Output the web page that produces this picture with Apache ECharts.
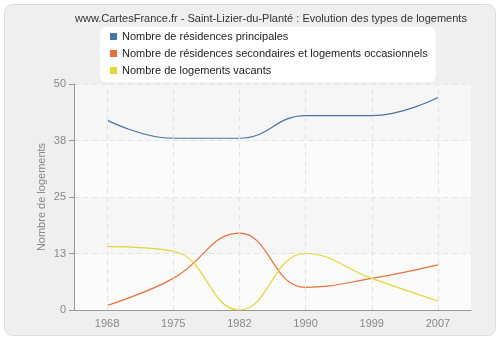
<!DOCTYPE html>
<html><head><meta charset="utf-8">
<script src="https://cdn.jsdelivr.net/npm/echarts@6/dist/echarts.min.js"></script>
<style>html,body{margin:0;padding:0;background:#fff}#c{width:500px;height:340px}</style>
</head><body><div id="c"></div>
<script>
const years = ['1968','1975','1982','1990','1999','2007'];
const principales = [42, 38, 38, 43, 43, 47];
const secondaires = [1, 7, 17, 5, 7, 10];
const vacants = [14, 13, 0, 12.5, 7, 2];
const seriesNames = ['Nombre de résidences principales','Nombre de résidences secondaires et logements occasionnels','Nombre de logements vacants'];
const colors = ['#4a74a5','#e8703b','#e3d638'];

const chart = echarts.init(document.getElementById('c'));
const font = 'Liberation Sans';
chart.setOption({
  animation:false,
  backgroundColor:'#ffffff',
  graphic:[
    {type:'rect',shape:{x:4.5,y:4.5,width:491,height:331,r:8},style:{fill:'#efefef',stroke:'#dddddd',lineWidth:1},z:-10}
  ],
  title:{text:'www.CartesFrance.fr - Saint-Lizier-du-Planté : Evolution des types de logements',left:70,top:8,
    textStyle:{fontFamily:font,fontSize:11,fontWeight:'normal',color:'#333'}},
  legend:{orient:'vertical',left:100,top:27,itemWidth:7,itemHeight:7,itemGap:6,icon:'rect',
    backgroundColor:'#ffffff',borderRadius:6,padding:[4,8,6,10],
    textStyle:{fontFamily:font,fontSize:11,color:'#222'},
    data:seriesNames},
  grid:{left:74,top:84,right:29,bottom:30},
  xAxis:{type:'category',data:years,boundaryGap:true,
    axisLine:{lineStyle:{color:'#999'}},
    axisTick:{alignWithLabel:true,length:5,lineStyle:{color:'#999'}},
    axisLabel:{fontFamily:font,fontSize:11,color:'#888',margin:8},
    splitLine:{show:false}},
  yAxis:{type:'value',min:0,max:50,interval:12.5,
    name:'Nombre de logements',nameLocation:'middle',nameGap:27,nameMoveOverlap:false,
    nameTextStyle:{fontFamily:font,fontSize:11,color:'#888'},
    axisLine:{show:true,lineStyle:{color:'#999'}},
    axisTick:{show:true,length:5,lineStyle:{color:'#999'}},
    axisLabel:{fontFamily:font,fontSize:11,color:'#888',formatter:v=>String(Math.round(v))},
    splitLine:{lineStyle:{color:'#e4e4e4',type:[5,4]}},
    splitArea:{show:true,areaStyle:{color:['#fbfbfb','#f6f6f6']}}},
  series:[
    {name:seriesNames[0],type:'line',data:principales,smooth:0.45,symbol:'none',
     lineStyle:{width:1.2,color:colors[0]},itemStyle:{color:colors[0]},
     markLine:{silent:true,symbol:'none',label:{show:false},lineStyle:{color:'#e2e2e2',type:[5,4],width:1},
       data:years.map(y=>({xAxis:y}))}},
    {name:seriesNames[1],type:'line',data:secondaires,smooth:0.45,symbol:'none',
     lineStyle:{width:1.2,color:colors[1]},itemStyle:{color:colors[1]}},
    {name:seriesNames[2],type:'line',data:vacants,smooth:0.45,symbol:'none',
     lineStyle:{width:1.2,color:colors[2]},itemStyle:{color:colors[2]}}
  ]
});
</script></body></html>
